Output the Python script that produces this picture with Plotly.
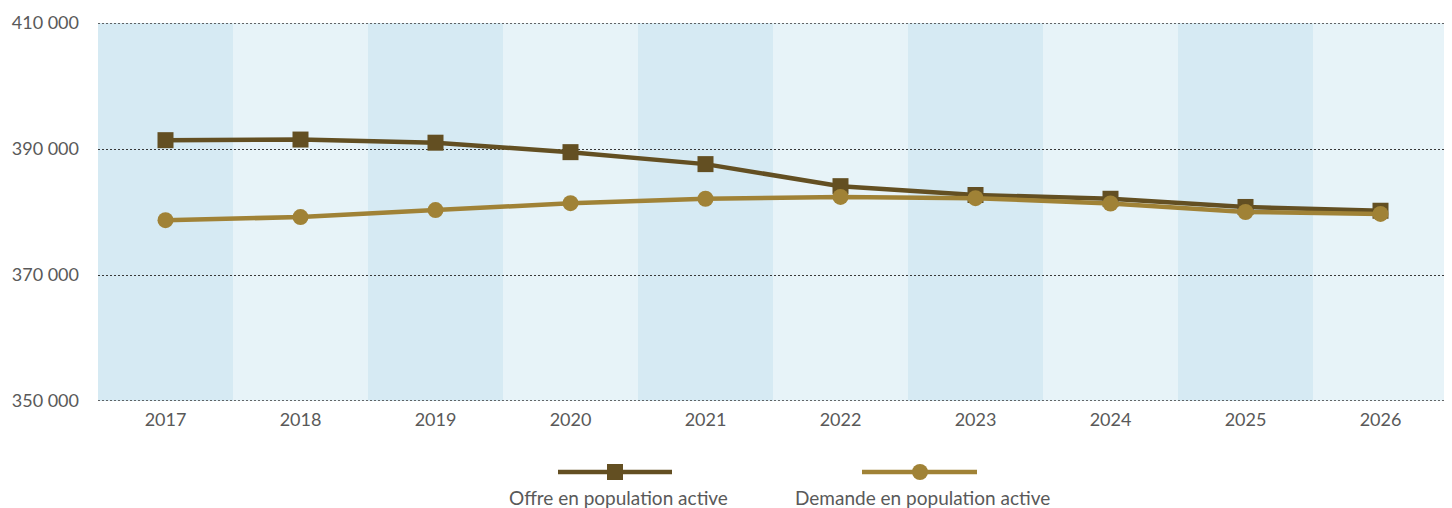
import plotly.graph_objects as go

years = [2017, 2018, 2019, 2020, 2021, 2022, 2023, 2024, 2025, 2026]
offre = [391400, 391500, 391000, 389500, 387600, 384100, 382700, 382100, 380800, 380200]
demande = [378700, 379200, 380300, 381400, 382100, 382400, 382200, 381350, 380000, 379700]
series_names = ["Offre en population active", "Demande en population active"]
y_ticks = [350000, 370000, 390000, 410000]

c_offre = "#634f22"
c_demande = "#a08236"
bg_dark = "#d6eaf3"
bg_light = "#e7f3f8"
font_fam = "Lato, 'Open Sans', sans-serif"

OFF = 8  # default page body margin
W, H = 1452 - OFF, 508 - OFF
L, R, T, B = 98 - OFF, 4, 23 - OFF, 107

fig = go.Figure()
fig.add_trace(go.Scatter(x=years, y=offre, mode="lines+markers", name=series_names[0],
                         line=dict(color=c_offre, width=4.5),
                         marker=dict(symbol="square", size=16, color=c_offre)))
fig.add_trace(go.Scatter(x=years, y=demande, mode="lines+markers", name=series_names[1],
                         line=dict(color=c_demande, width=4.5),
                         marker=dict(symbol="circle", size=16, color=c_demande)))

shapes = []
for i, yr in enumerate(years):
    shapes.append(dict(type="rect", xref="x", yref="paper", x0=yr - 0.5, x1=yr + 0.5, y0=0, y1=1,
                       fillcolor=bg_dark if i % 2 == 0 else bg_light, line=dict(width=0), layer="below"))

grid_col = "#383838"
# dotted lines at the range edges (plotly omits edge gridlines)
for v in (y_ticks[0], y_ticks[-1]):
    shapes.append(dict(type="line", xref="paper", yref="y", x0=0, x1=1, y0=v, y1=v,
                       line=dict(color=grid_col, width=1.4, dash="2px,2px"), layer="below"))

pw = W - L - R
ph = H - T - B
def px(x):
    return (x - OFF - L) / pw
def py(y):
    return (H - B - (y - OFF)) / ph

# custom legend (symbol above, text below)
legend_items = [(series_names[0], c_offre, "square", 558, 672, 615, 618),
                (series_names[1], c_demande, "circle", 862, 977, 920, 922)]
annotations = []
for name, col, sym, x0, x1, xm, xt in legend_items:
    shapes.append(dict(type="line", xref="paper", yref="paper", x0=px(x0), x1=px(x1),
                       y0=py(472), y1=py(472), line=dict(color=col, width=4.5)))
    r = 8
    shapes.append(dict(type="rect" if sym == "square" else "circle", xref="paper", yref="paper",
                       x0=px(xm - r), x1=px(xm + r), y0=py(472 - r), y1=py(472 + r),
                       fillcolor=col, line=dict(width=0)))
    annotations.append(dict(text=name, xref="paper", yref="paper", x=px(xt), y=py(497),
                            showarrow=False, xanchor="center", yanchor="middle",
                            font=dict(size=19, color="#595959", family=font_fam)))

fig.update_layout(
    width=W, height=H,
    margin=dict(l=L, r=R, t=T, b=B),
    paper_bgcolor="white", plot_bgcolor="white",
    showlegend=False,
    separators=", ",
    shapes=shapes, annotations=annotations,
    font=dict(family=font_fam, size=18, color="#595959"),
    xaxis=dict(range=[2016.5, 2026.5], tickvals=years, ticktext=[str(y) for y in years],
               showgrid=False, zeroline=False, showline=False, ticks="", ticklabelstandoff=6,
               fixedrange=True),
    yaxis=dict(range=[350000, 410000], tickvals=y_ticks, tickformat=",d",
               showgrid=True, gridcolor=grid_col, griddash="2px,2px", gridwidth=1.4,
               zeroline=False, showline=False, ticks="", ticklabelstandoff=18),
)

fig.write_html("out.html")
